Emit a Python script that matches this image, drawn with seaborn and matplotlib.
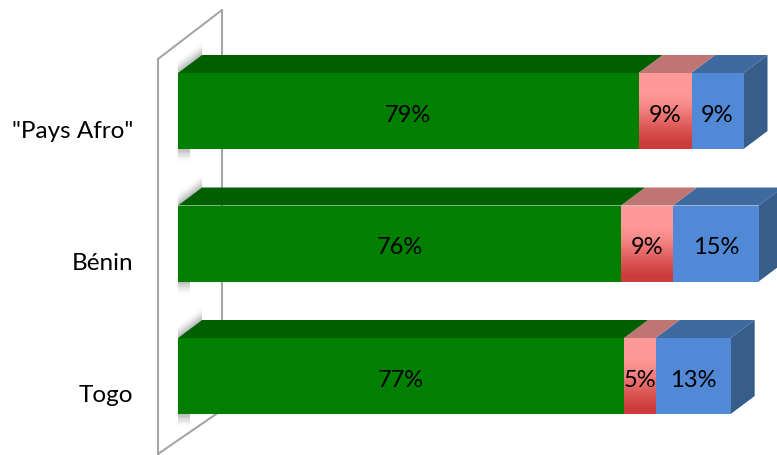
#!/usr/bin/env python3
# plot.py - gestapelde balken met nep-3D look (Pays Afro / Benin / Togo)

import numpy as np
import matplotlib
matplotlib.use("Agg")
import matplotlib.pyplot as plt
from matplotlib.lines import Line2D
from matplotlib.patches import Polygon
from matplotlib.transforms import Affine2D, ScaledTranslation
import seaborn as sns

# Data
pays = ['"Pays Afro"', "Bénin", "Togo"]
vert = [79, 76, 76.5]
rouge = [9, 8.9, 5.4]
bleu = [9, 14.7, 12.9]
labels_vert = ["79%", "76%", "77%"]
labels_rouge = ["9%", "9%", "5%"]
labels_bleu = ["9%", "15%", "13%"]

W, H = 777, 456
PX_PER_PCT = 5.83
ROW_PX = 132.5
X0_PX = 178
Y0_PX = 112
DEPTH_X, DEPTH_Y = 24, 18

sns.set_theme(style="white")
plt.rcParams["font.family"] = ["Lato", "DejaVu Sans"]

fig = plt.figure(figsize=(W / 100, H / 100), dpi=100)
ax = fig.add_axes([X0_PX / W, 0, 1 - X0_PX / W, 1])
ax.patch.set_alpha(0)

# Stapel tekenen
lefts_rouge = np.array(vert)
lefts_bleu = lefts_rouge + np.array(rouge)
bar_h = 76 / ROW_PX
bar_kw = dict(y=pays, saturation=1, width=bar_h, ax=ax, zorder=5, linewidth=0)
sns.barplot(x=vert, color="#007f00", **bar_kw)
sns.barplot(x=rouge, left=lefts_rouge, color="#ff9999", **bar_kw)
sns.barplot(x=bleu, left=lefts_bleu, color="#5289d6", **bar_kw)

ax.set_xlim(0, (W - X0_PX) / PX_PER_PCT)
ax.set_ylim((H - Y0_PX) / ROW_PX, -Y0_PX / ROW_PX)
ax.set_xlabel("")
ax.set_ylabel("")
ax.set_xticks([])
sns.despine(ax=ax, left=True, bottom=True)
ax.tick_params(axis="y", length=0, pad=32)
# namen staan iets lager dan de balken
zakken = ScaledTranslation(0, -17 / 100, fig.dpi_scale_trans)
for t in ax.get_yticklabels():
    t.set_fontsize(17.5)
    t.set_color("black")
    t.set_transform(t.get_transform() + zakken)

dx = DEPTH_X / PX_PER_PCT
dy = DEPTH_Y / ROW_PX
px_y = 1 / ROW_PX

bars_vert, bars_rouge, bars_bleu = ax.containers[:3]

# Wand (pixels, y naar beneden)
px = Affine2D().scale(1 / W, -1 / H).translate(0, 1) + fig.transFigure
wall = [((158, 158), (60, 456)), ((158, 222), (60, 11)), ((222, 222), (11, 412)), ((158, 222), (455, 411))]
for xs, ys in wall:
    ax.add_line(Line2D(xs, ys, color="#a6a6a6", lw=1.5, transform=px, zorder=1, clip_on=False))


def top_and_side(patch, top_color, side_color=None):
    x0, x1 = patch.get_x(), patch.get_x() + patch.get_width()
    y0, y1 = patch.get_y(), patch.get_y() + patch.get_height()
    ax.add_patch(Polygon([(x0, y0), (x0 + dx, y0 - dy), (x1 + dx, y0 - dy), (x1, y0)],
                         color=top_color, lw=0, zorder=4))
    if side_color:
        ax.add_patch(Polygon([(x1, y0), (x1 + dx, y0 - dy), (x1 + dx, y1 - dy), (x1, y1)],
                             color=side_color, lw=0, zorder=4))


for p in bars_bleu:
    top_and_side(p, "#3f6aa0", "#375d8a")
for p in bars_rouge:
    top_and_side(p, "#c07575")
for p in bars_vert:
    top_and_side(p, "#005f00")

# Verloop op rood
grad = np.array([[1.0], [1.0], [0.85], [0.55], [0.25], [0.0]])
cmap = matplotlib.colors.LinearSegmentedColormap.from_list("rood", ["#cc3c3a", "#ff9999"])
for p in bars_rouge:
    x0, y0 = p.get_x(), p.get_y()
    im = ax.imshow(grad, cmap=cmap, vmin=0, vmax=1, aspect="auto", interpolation="bilinear", zorder=6,
                   extent=(x0, x0 + p.get_width(), y0 + p.get_height(), y0))
    im.set_clip_path(p)
ax.set_xlim(0, (W - X0_PX) / PX_PER_PCT)
ax.set_ylim((H - Y0_PX) / ROW_PX, -Y0_PX / ROW_PX)

# Zachte schaduw op de wand
n = 10
for p in bars_vert:
    y0, y1 = p.get_y(), p.get_y() + p.get_height()
    for k in range(n):
        a = 0.10 * (1 - k / n)
        off = (k + 1) * 1.3 * px_y
        ax.add_patch(Polygon([(0, y0), (dx, y0 - dy), (dx, y0 - dy - off), (0, y0 - off)],
                             color="#707070", alpha=a, lw=0, zorder=2, clip_on=False))
        ax.add_patch(Polygon([(0, y1), (12 / PX_PER_PCT, y1), (12 / PX_PER_PCT, y1 + off), (0, y1 + off)],
                             color="#707070", alpha=a, lw=0, zorder=2, clip_on=False))

# Labels
for bars, labels in [(bars_vert, labels_vert), (bars_rouge, labels_rouge), (bars_bleu, labels_bleu)]:
    for t in ax.bar_label(bars, labels=labels, label_type="center", fontsize=17, color="black", zorder=8):
        t.xyann = (0, -2.5)

fig.savefig("out.png", dpi=100)
